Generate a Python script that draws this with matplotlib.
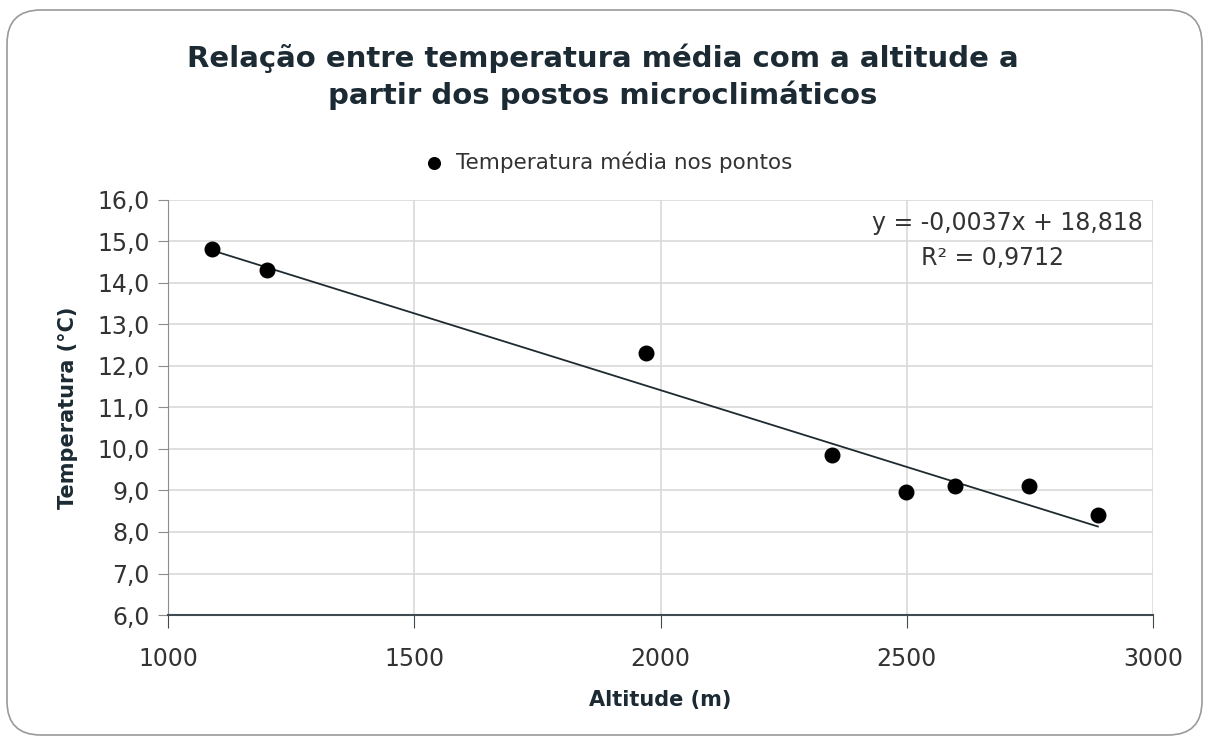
import matplotlib
matplotlib.use("Agg")
import matplotlib.pyplot as plt
from matplotlib.patches import FancyBboxPatch
import numpy as np

altitude = [1090, 1200, 1970, 2348, 2498, 2597, 2748, 2888]
temperatura = [14.82, 14.32, 12.32, 9.86, 8.96, 9.10, 9.12, 8.40]
slope = -0.0037
intercept = 18.818
eq_text = "y = -0,0037x + 18,818"
r2_text = "R² = 0,9712"
xticks = [1000, 1500, 2000, 2500, 3000]
yticks = [6, 7, 8, 9, 10, 11, 12, 13, 14, 15, 16]
title = "Relação entre temperatura média com a altitude a\npartir dos postos microclimáticos"
legend_label = "Temperatura média nos pontos"

plt.rcParams['font.family'] = ['DejaVu Sans']
fig = plt.figure(figsize=(12.05, 7.4), dpi=100)
fig.patches.append(FancyBboxPatch((7/1205, 5/740), 1195/1205, 725/740,
                                  boxstyle="round,pad=0,rounding_size=0.028",
                                  transform=fig.transFigure, facecolor='none',
                                  edgecolor='#9a9a9a', linewidth=1.2, mutation_aspect=1205/740))
ax = fig.add_axes([168/1205, 1-615/740, (1153-168)/1205, (615-200)/740])
ax.set_xlim(1000, 3000)
ax.set_ylim(6, 16)
ax.set_xticks(xticks)
ax.set_yticks(yticks)
ax.set_yticklabels([f"{v:.1f}".replace('.', ',') for v in yticks])
ax.grid(True, color='#d9d9d9', linewidth=1.2)
ax.set_axisbelow(True)
for s in ['top', 'right']:
    ax.spines[s].set_visible(False)
ax.spines['left'].set_color('#8c8c8c')
ax.spines['bottom'].set_color('#404a50')
ax.spines['bottom'].set_linewidth(1.5)
ax.tick_params(axis='x', direction='out', length=9, color='#404a50', labelsize=17, pad=14, labelcolor='#333333')
ax.tick_params(axis='y', direction='out', length=7, color='#8c8c8c', labelsize=17, pad=6, labelcolor='#333333')

ax.scatter(altitude, temperatura, s=110, color='black', zorder=3, label=legend_label)
xs = np.array([min(altitude), max(altitude)])
ax.plot(xs, slope * xs + intercept, color='#1f2a30', linewidth=1.3, zorder=2)

ax.text(0.99, 0.945, eq_text, transform=ax.transAxes, ha='right', va='center', fontsize=17, color='#333333')
ax.text(0.91, 0.86, r2_text, transform=ax.transAxes, ha='right', va='center', fontsize=17, color='#333333')

ax.set_xlabel("Altitude (m)", fontsize=15, fontweight='bold', color='#1c2a33', labelpad=14)
ax.set_ylabel("Temperatura (°C)", fontsize=15, fontweight='bold', color='#1c2a33', labelpad=14)

fig.text(0.5, 1-77/740, title, ha='center', va='center', fontsize=21, fontweight='bold',
         color='#1c2a33', linespacing=1.3)
fig.legend(loc='center', bbox_to_anchor=(0.5, 1-162/740), frameon=False, fontsize=15.5,
           handletextpad=0.05, markerscale=0.8, labelcolor='#333333')

fig.savefig("out.png", dpi=100)
